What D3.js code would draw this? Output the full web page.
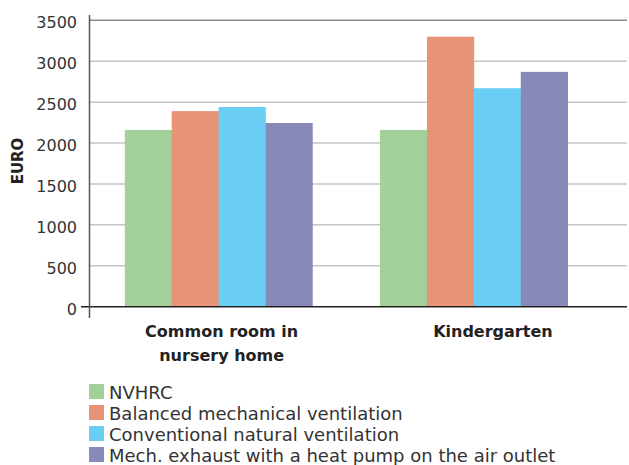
<!DOCTYPE html>
<html><head><meta charset="utf-8">
<script src="https://cdn.jsdelivr.net/npm/d3@7/dist/d3.min.js"></script>
<style>body{margin:0;background:#fff}svg{display:block}</style>
</head><body><svg id="c" width="629" height="465"></svg>
<script>
const categories = [["Common room in","nursery home"],["Kindergarten"]];
const categoryKeys = ["Common room in nursery home","Kindergarten"];
const seriesNames = ["NVHRC","Balanced mechanical ventilation","Conventional natural ventilation","Mech. exhaust with a heat pump on the air outlet"];
const seriesColors = ["#a3cf98","#e69378","#6acef4","#8888b9"];
const nvhrc = [2160, 2160];
const balanced = [2390, 3300];
const conventional = [2440, 2670];
const mechExhaust = [2245, 2870];
const yTicks = [0,500,1000,1500,2000,2500,3000,3500];
const seriesValues = [nvhrc, balanced, conventional, mechExhaust];

const svg = d3.select("#c");
const font = "'DejaVu Sans', sans-serif";
const left = 89.5, gridRight = 627;
const y = d3.scaleLinear().domain([0,3500]).range([306.7, 20.3]);
const x0 = d3.scaleBand().domain(categoryKeys).range([91, 601.5]).paddingInner(0.265).paddingOuter(0.1325);
const x1 = d3.scaleBand().domain(seriesNames).range([0, x0.bandwidth()]);

// gridlines
svg.append("g").selectAll("line").data(yTicks.filter(d=>d>0)).join("line")
  .attr("x1", left).attr("x2", gridRight)
  .attr("y1", d=>y(d)).attr("y2", d=>y(d))
  .attr("stroke", d=> d===3500 ? "#8a8a8a" : "#c4c4c4").attr("stroke-width", 1.5);

// bars
const g = svg.append("g");
categoryKeys.forEach((c, ci) => {
  g.selectAll(null).data(seriesNames).join("rect")
    .attr("x", s => x0(c) + x1(s))
    .attr("width", x1.bandwidth() + 0.3)
    .attr("y", (s, si) => y(seriesValues[si][ci]))
    .attr("height", (s, si) => y(0) - y(seriesValues[si][ci]))
    .attr("fill", (s, si) => seriesColors[si]);
});

// baseline
svg.append("line").attr("x1", 81).attr("x2", gridRight).attr("y1", y(0)).attr("y2", y(0))
  .attr("stroke", "#222").attr("stroke-width", 1.5);
// y axis line
svg.append("line").attr("x1", left).attr("x2", left).attr("y1", 15).attr("y2", 318)
  .attr("stroke", "#555").attr("stroke-width", 1.5);

// tick labels
svg.append("g").selectAll("text").data(yTicks).join("text")
  .attr("x", 77).attr("y", d => y(d)).attr("dy", "0.5em")
  .attr("text-anchor", "end").attr("font-family", font).attr("font-size", 16).attr("fill", "#333")
  .text(d => d);

// y title
svg.append("text").attr("transform", "translate(23,161) rotate(-90)")
  .attr("text-anchor", "middle").attr("font-family", font).attr("font-weight", "bold")
  .attr("font-size", 15).attr("fill", "#222").text("EURO");

// category labels
const labelDx = [3, 19];
categoryKeys.forEach((c, ci) => {
  const t = svg.append("text").attr("text-anchor", "middle").attr("font-family", font)
    .attr("font-weight", "bold").attr("font-size", 16).attr("fill", "#222");
  categories[ci].forEach((line, li) => {
    t.append("tspan").attr("x", x0(c) + x0.bandwidth()/2 + labelDx[ci]).attr("y", 336.7 + li*24).text(line);
  });
});

// legend
const lg = svg.append("g");
seriesNames.forEach((s, i) => {
  const by = 399 + i*21;
  lg.append("rect").attr("x", 89).attr("y", by - 15).attr("width", 15).attr("height", 15).attr("fill", seriesColors[i]);
  lg.append("text").attr("x", 109).attr("y", by).attr("font-family", font).attr("font-size", 18)
    .attr("fill", "#333").text(s);
});
</script></body></html>
